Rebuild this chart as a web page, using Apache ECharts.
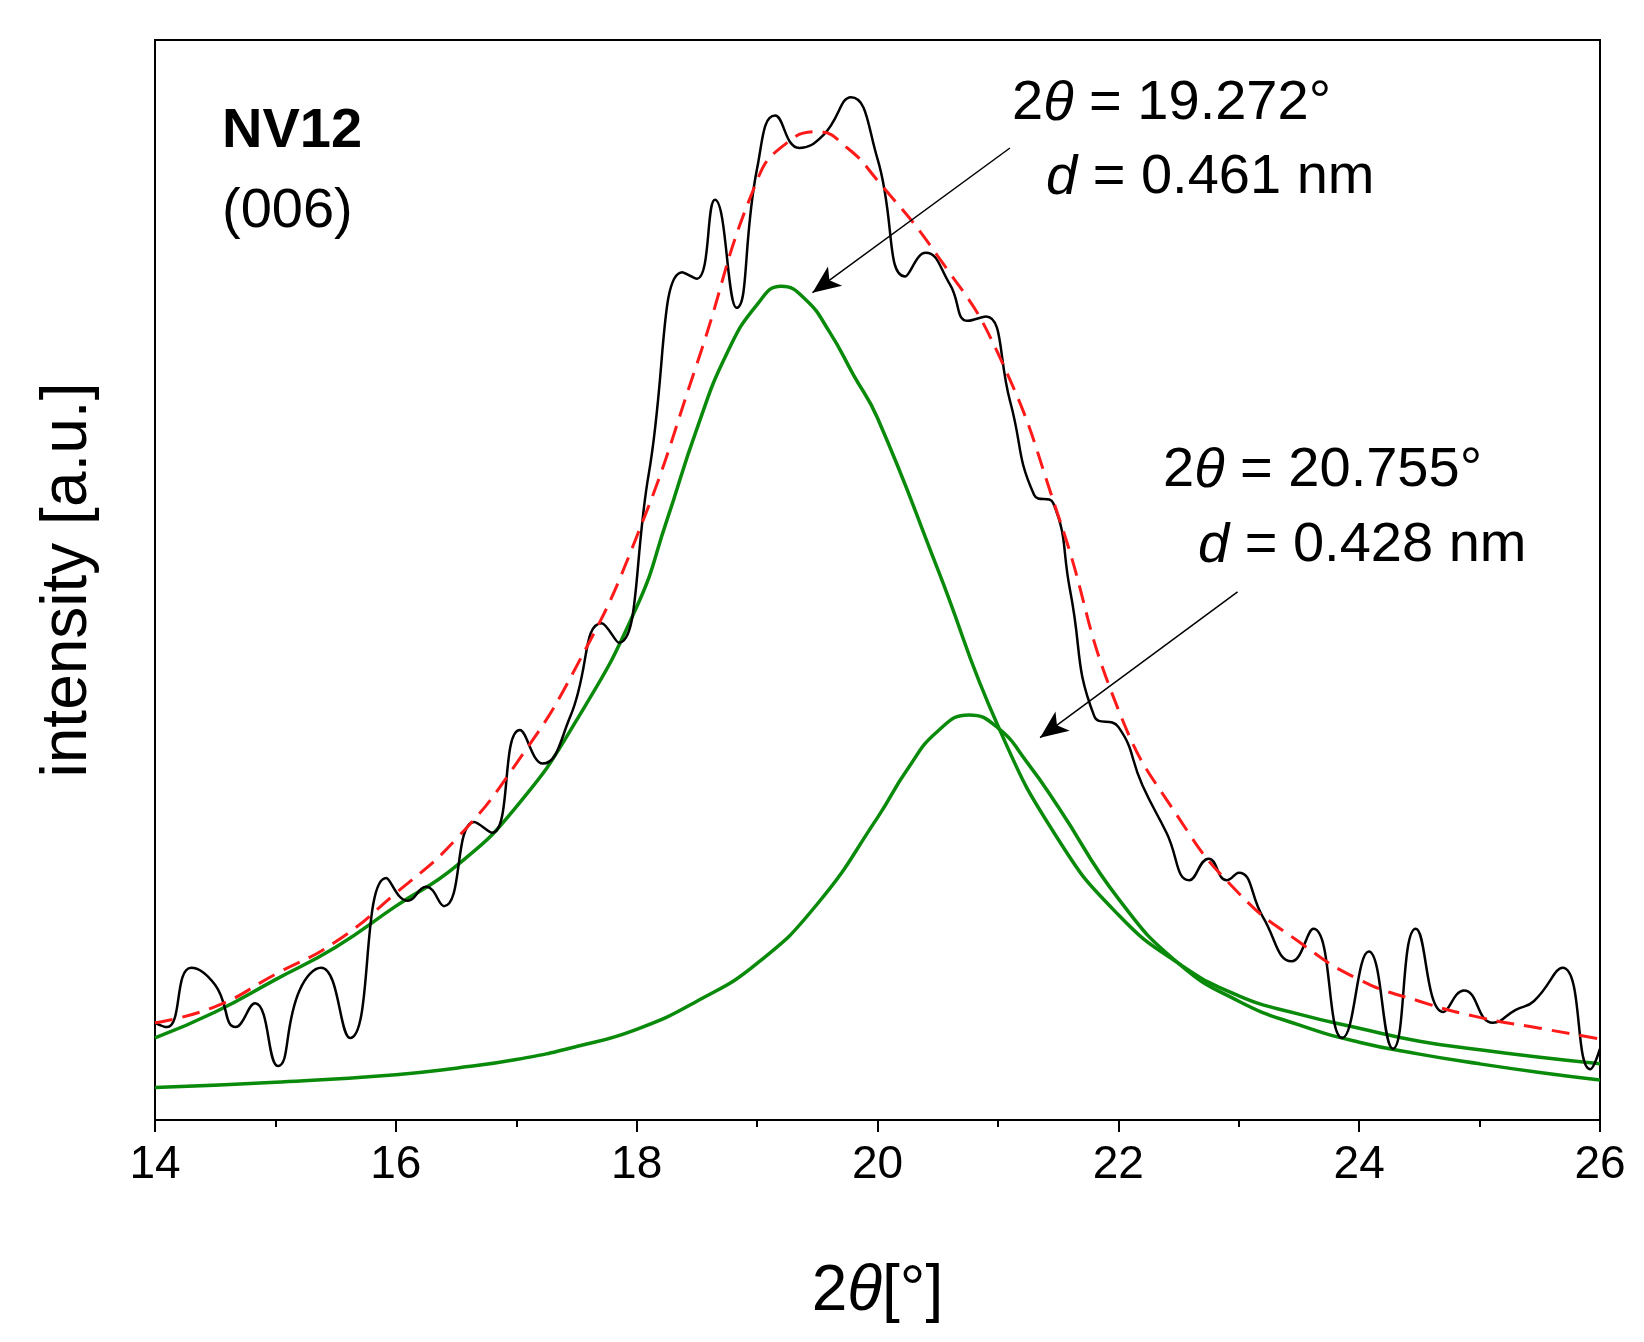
<!DOCTYPE html><html><head><meta charset="utf-8"><script src="https://cdn.jsdelivr.net/npm/echarts@6/dist/echarts.min.js"></script>
<style>body{margin:0}#c{width:1644px;height:1342px}</style></head><body><div id="c"></div><script>
const measured=[[14.0,9],[14.1,8.6],[14.3,14.1],[14.5,12.5],[14.67,8.6],[14.83,10.8],[15.02,5],[15.2,12],[15.38,14.1],[15.62,7.6],[15.92,22.4],[16.1,20.3],[16.25,21.6],[16.4,19.8],[16.65,27.6],[16.8,26.6],[17.03,36.1],[17.22,33],[17.45,37.4],[17.71,46],[17.85,44.2],[18.1,59.8],[18.38,78.5],[18.5,77.9],[18.65,85.2],[18.83,75.2],[19.0,88.1],[19.15,93],[19.35,90],[19.55,91.2],[19.78,94.7],[20.0,89],[20.23,78.1],[20.4,80.3],[20.6,77.4],[20.75,74],[20.9,74.4],[21.1,66.6],[21.3,57.9],[21.46,57.1],[21.6,49],[21.8,37.4],[22.0,36.4],[22.2,31],[22.4,26.6],[22.59,22.2],[22.75,24.2],[22.9,22.2],[23.0,22.9],[23.2,18.8],[23.44,14.7],[23.62,17.7],[23.86,7.6],[24.08,15.6],[24.28,6.6],[24.47,17.7],[24.7,10],[24.87,12],[25.11,9],[25.3,10.2],[25.45,11],[25.69,14.1],[25.92,4.7],[26.0,6.6]];
const fitSum=[[14,9],[14.5,10.5],[15,13.5],[15.5,16.5],[16,21],[16.5,26],[17,33],[17.5,42],[18,54],[18.5,70],[19,87],[19.25,90.5],[19.5,91.5],[19.75,90],[20,87],[20.5,80],[21,71],[21.5,56],[22,38],[22.5,28],[23,21],[23.5,16.5],[24,13],[24.5,11],[25,9.5],[25.5,8.5],[26,7.5]];
const peak1=[[14,7.6],[14.5,10],[15,13],[15.5,16],[16,19.8],[16.5,23.5],[17,29],[17.5,37],[18,47.5],[18.25,55.5],[18.5,64],[18.75,71],[19,75.5],[19.2,77.2],[19.4,76],[19.6,73],[19.8,69],[20,65],[20.5,51],[21,36.5],[21.5,26],[22,19],[22.5,14.5],[23,11.5],[23.5,9.8],[24,8.5],[24.5,7.3],[25,6.5],[25.5,5.8],[26,5.2]];
const peak2=[[14,3.0],[15,3.5],[16,4.2],[16.5,4.8],[17,5.6],[17.5,6.8],[18,8.4],[18.5,11],[19,14.5],[19.5,20],[20,28],[20.25,32.5],[20.5,36],[20.76,37.5],[21,36.3],[21.25,33],[21.5,29],[22,20.5],[22.5,14.5],[23,11],[23.5,8.8],[24,7.2],[24.5,6.1],[25,5.2],[25.5,4.4],[26,3.7]];
const xTicks=[14,16,18,20,22,24,26];
const ch=echarts.init(document.getElementById('c'));
const F='Liberation Sans, Arial, sans-serif';
const rich={n:{fontSize:56,fontFamily:F,color:'#000'},i:{fontSize:56,fontFamily:F,fontStyle:'italic',color:'#000'}};
ch.setOption({
 animation:false,
 grid:{left:155,right:44,top:40,bottom:222,show:true,borderColor:'#000',borderWidth:2},
 xAxis:{type:'value',min:14,max:26,interval:2,
  axisLine:{onZero:false,lineStyle:{color:'#000',width:2}},
  axisTick:{length:12,lineStyle:{color:'#000',width:2}},
  minorTick:{show:true,splitNumber:2,length:7,lineStyle:{color:'#000',width:2}},
  splitLine:{show:false},
  axisLabel:{fontSize:46,fontFamily:F,color:'#000',margin:22,formatter:v=>xTicks.includes(v)?String(v):''},
  name:'{n|2}{i|θ}{n|[°]}',nameLocation:'middle',nameGap:140,
  nameTextStyle:{rich:{n:{fontSize:64,fontFamily:F,color:'#000'},i:{fontSize:64,fontFamily:F,fontStyle:'italic',color:'#000'}}}},
 yAxis:{type:'value',min:0,max:100,axisLabel:{show:false},axisTick:{show:false},splitLine:{show:false},
  axisLine:{show:true,lineStyle:{color:'#000',width:2}},
  name:'intensity [a.u.]',nameLocation:'middle',nameGap:55,nameTextStyle:{fontSize:64,fontFamily:F,color:'#000'}},
 series:[
  {type:'line',data:measured,smooth:0.5,symbol:'none',lineStyle:{color:'#000',width:2.5},z:3},
  {type:'line',data:fitSum,smooth:0.5,symbol:'none',lineStyle:{color:'#ff1a1a',width:3,type:[18,10]},z:4},
  {type:'line',data:peak1,smooth:0.5,symbol:'none',lineStyle:{color:'#0a8a0a',width:3.5},z:2},
  {type:'line',data:peak2,smooth:0.5,symbol:'none',lineStyle:{color:'#0a8a0a',width:3.5},z:2,
   markLine:{silent:true,symbol:['none','arrow'],symbolSize:[18,28],label:{show:false},lineStyle:{color:'#000',width:1.5,type:'solid'},
    data:[[{coord:[21.1,90]},{coord:[19.46,76.6]}],[{coord:[22.99,48.9]},{coord:[21.35,35.4]}]]}}
 ],
 graphic:[
  {type:'text',left:222,top:104,style:{text:'NV12',font:'bold 56px '+F,fill:'#000'}},
  {type:'text',left:222,top:184,style:{text:'(006)',font:'56px '+F,fill:'#000'}},
  {type:'text',left:1012,top:76,style:{text:'{n|2}{i|θ}{n| = 19.272°}',rich}},
  {type:'text',left:1046,top:150,style:{text:'{i|d}{n| = 0.461 nm}',rich}},
  {type:'text',left:1163,top:443,style:{text:'{n|2}{i|θ}{n| = 20.755°}',rich}},
  {type:'text',left:1198,top:518,style:{text:'{i|d}{n| = 0.428 nm}',rich}}
 ]
});
</script></body></html>
